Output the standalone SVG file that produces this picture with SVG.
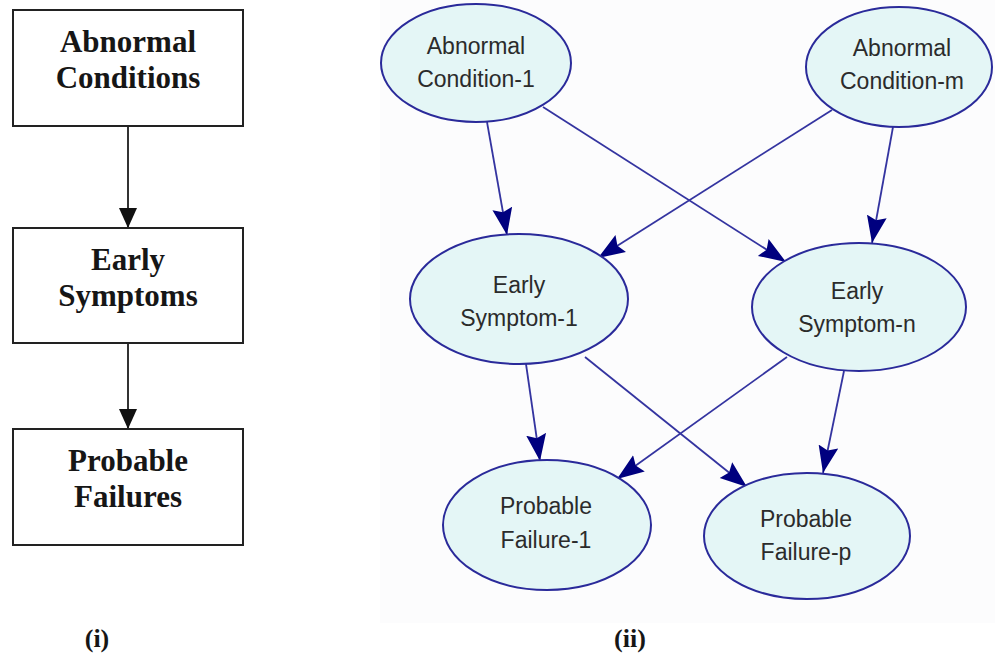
<svg xmlns="http://www.w3.org/2000/svg" width="995" height="656" viewBox="0 0 995 656">
<defs>
<style>
.box{fill:#fff;stroke:#222;stroke-width:2}
.btxt{font-family:"Liberation Serif","Times New Roman",serif;font-weight:bold;font-size:31px;fill:#161616;text-anchor:middle}
.cap{font-family:"Liberation Serif","Times New Roman",serif;font-weight:bold;font-size:26px;fill:#161616;text-anchor:middle}
.ell{fill:#e4f6f6;stroke:#2a2a9a;stroke-width:2}
.etxt{font-family:"Liberation Sans",Arial,sans-serif;font-size:23px;fill:#2b2b2b;text-anchor:middle}
.bl{stroke:#333;stroke-width:2;fill:none}
.el{stroke:#3434a0;stroke-width:1.8;fill:none}
</style>
<marker id="ab" markerUnits="userSpaceOnUse" markerWidth="20" markerHeight="18" refX="20" refY="9" orient="auto" viewBox="0 0 20 18">
<path d="M0,0 L20,9 L0,18 z" fill="#111"/>
</marker>
<marker id="an" markerUnits="userSpaceOnUse" markerWidth="27" markerHeight="22" refX="27" refY="11" orient="auto" viewBox="0 0 27 22">
<path d="M0,1 L27,11 L0,21 L4,11 z" fill="#00007f"/>
</marker>
</defs>
<rect x="0" y="0" width="995" height="656" fill="#fff"/>
<rect x="380" y="0" width="615" height="623" fill="#fcfcfd"/>

<g id="connectors">
<line class="bl" x1="128" y1="127" x2="128" y2="228" marker-end="url(#ab)"/>
<line class="bl" x1="128" y1="343" x2="128" y2="429" marker-end="url(#ab)"/>
<line class="el" x1="487" y1="122" x2="507" y2="235" marker-end="url(#an)"/>
<line class="el" x1="543" y1="107" x2="786" y2="262" marker-end="url(#an)"/>
<line class="el" x1="832" y1="110" x2="598" y2="258" marker-end="url(#an)"/>
<line class="el" x1="893" y1="127" x2="872" y2="243" marker-end="url(#an)"/>
<line class="el" x1="526" y1="364" x2="540" y2="461" marker-end="url(#an)"/>
<line class="el" x1="585" y1="357" x2="747" y2="487" marker-end="url(#an)"/>
<line class="el" x1="787" y1="357" x2="617" y2="479" marker-end="url(#an)"/>
<line class="el" x1="844" y1="371" x2="823" y2="473" marker-end="url(#an)"/>
</g>

<g id="box-abnormal">
<rect class="box" x="13" y="10" width="230" height="116"/>
<text class="btxt" x="128" y="52">Abnormal</text>
<text class="btxt" x="128" y="88">Conditions</text>
</g>
<g id="box-early">
<rect class="box" x="13" y="228" width="230" height="115"/>
<text class="btxt" x="128" y="270">Early</text>
<text class="btxt" x="128" y="306">Symptoms</text>
</g>
<g id="box-probable">
<rect class="box" x="13" y="429" width="230" height="116"/>
<text class="btxt" x="128" y="471">Probable</text>
<text class="btxt" x="128" y="507">Failures</text>
</g>

<g id="ac1">
<ellipse class="ell" cx="476" cy="63" rx="95" ry="59"/>
<text class="etxt" x="476" y="54">Abnormal</text>
<text class="etxt" x="476" y="87">Condition-1</text>
</g>
<g id="acm">
<ellipse class="ell" cx="899" cy="67" rx="93" ry="60"/>
<text class="etxt" x="902" y="56">Abnormal</text>
<text class="etxt" x="902" y="89">Condition-m</text>
</g>
<g id="es1">
<ellipse class="ell" cx="519" cy="299" rx="109" ry="65"/>
<text class="etxt" x="519" y="293">Early</text>
<text class="etxt" x="519" y="326">Symptom-1</text>
</g>
<g id="esn">
<ellipse class="ell" cx="859" cy="307" rx="107" ry="64"/>
<text class="etxt" x="857" y="299">Early</text>
<text class="etxt" x="857" y="332">Symptom-n</text>
</g>
<g id="pf1">
<ellipse class="ell" cx="547" cy="525" rx="104" ry="65"/>
<text class="etxt" x="546" y="514">Probable</text>
<text class="etxt" x="546" y="548">Failure-1</text>
</g>
<g id="pfp">
<ellipse class="ell" cx="807" cy="536" rx="103" ry="63"/>
<text class="etxt" x="806" y="527">Probable</text>
<text class="etxt" x="806" y="560">Failure-p</text>
</g>

<text class="cap" x="97" y="647">(i)</text>
<text class="cap" x="630" y="647">(ii)</text>
</svg>
